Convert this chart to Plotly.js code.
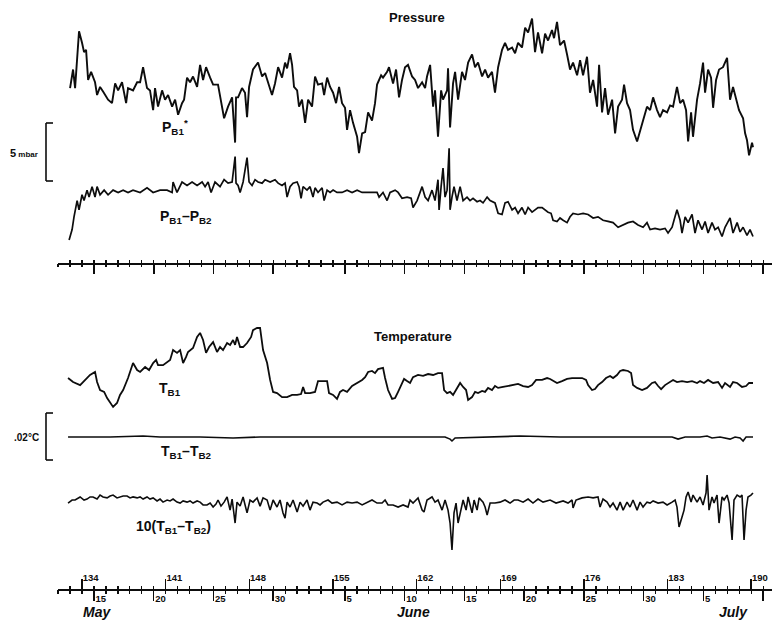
<!DOCTYPE html>
<html><head><meta charset="utf-8">
<script src="https://cdn.plot.ly/plotly-3.0.1.min.js"></script>
<style>html,body{margin:0;padding:0;background:#fff}#chart{width:772px;height:620px}</style>
</head><body><div id="chart"></div>
<script>
// ---------- DATA (day of year) ----------
// P_B1* (mbar, arbitrary zero)
const pb1Day = [133.00,133.25,133.42,133.75,134.00,134.17,134.34,134.51,134.76,135.09,135.26,135.51,135.76,136.18,136.51,136.77,137.02,137.35,137.69,137.85,138.27,138.61,138.86,139.11,139.44,139.69,139.95,140.11,140.36,140.70,140.95,141.20,141.54,141.79,142.04,142.37,142.54,142.79,143.04,143.29,143.63,143.88,144.13,144.38,144.72,144.97,145.38,145.72,145.89,146.22,146.56,146.81,146.89,147.06,147.39,147.64,147.81,147.98,148.31,148.73,149.07,149.32,149.57,149.90,150.15,150.41,150.74,150.99,151.16,151.41,151.58,151.74,152.00,152.16,152.41,152.67,152.92,153.25,153.50,153.75,154.09,154.26,154.51,154.76,155.01,155.26,155.51,155.76,156.01,156.18,156.43,156.68,157.02,157.18,157.44,157.69,157.94,158.27,158.52,158.69,159.03,159.19,159.53,159.69,160.03,160.28,160.53,160.78,161.03,161.28,161.62,161.87,162.12,162.46,162.71,162.87,163.13,163.38,163.54,163.79,164.05,164.21,164.55,164.63,164.80,165.05,165.22,165.47,165.80,166.05,166.31,166.64,166.89,167.14,167.48,167.73,167.98,168.31,168.56,168.82,169.15,169.40,169.65,169.99,170.24,170.49,170.82,171.08,171.33,171.66,171.91,172.16,172.50,172.75,173.00,173.33,173.50,173.75,174.00,174.34,174.59,174.84,175.09,175.43,175.68,175.93,176.26,176.51,176.77,177.10,177.27,177.52,177.77,178.02,178.36,178.61,178.86,179.19,179.36,179.61,179.86,180.11,180.45,180.70,180.95,181.28,181.54,181.79,182.12,182.37,182.62,182.96,183.21,183.46,183.79,184.05,184.30,184.55,184.72,184.97,185.13,185.47,185.72,185.97,186.14,186.39,186.64,186.81,187.06,187.31,187.64,187.98,188.23,188.48,188.73,188.98,189.32,189.49,189.65,189.82,190.07,190.15];
const pb1Val = [6.2,7.8,6.2,11.1,10.1,9.3,9.5,6.9,7.6,6.7,5.6,6.3,5.9,5.2,4.9,6.6,6.0,6.7,4.9,6.2,6.0,6.7,6.7,8.0,6.2,6.0,4.3,6.2,4.6,6.0,5.2,5.6,4.6,5.2,3.9,4.9,5.2,7.1,6.7,7.2,6.3,8.2,6.9,8.0,7.1,6.5,6.5,4.3,3.6,4.6,5.4,1.5,5.4,5.4,6.2,5.8,3.7,6.3,7.8,8.4,7.2,7.5,6.6,5.6,6.6,8.0,7.1,8.4,7.9,9.2,8.2,6.3,6.0,4.6,5.2,3.2,5.2,4.6,7.2,6.5,6.6,5.6,7.1,6.3,5.8,4.9,6.3,4.9,4.5,2.6,4.3,3.2,2.0,0.6,2.3,2.4,4.1,3.4,4.9,6.5,7.3,7.1,7.6,8.0,6.6,7.8,5.4,6.9,8.0,8.2,7.2,6.9,6.2,6.7,6.2,7.2,8.2,4.6,6.0,2.0,6.0,5.2,6.0,7.9,2.8,6.6,7.6,5.2,7.6,6.9,8.4,9.1,8.0,8.4,7.2,7.8,7.1,7.6,5.8,8.0,9.5,10.1,9.5,9.7,9.2,10.1,9.7,11.4,11.0,12.2,9.3,11.0,9.2,10.9,10.3,11.2,10.5,11.9,9.9,10.3,9.1,7.8,8.4,7.3,8.6,7.3,8.9,5.8,6.9,4.6,8.2,4.1,6.2,3.9,5.2,2.3,4.6,5.2,6.5,4.9,4.3,2.6,1.6,2.6,3.4,4.6,4.3,5.4,4.3,3.7,4.3,4.1,4.7,4.6,6.3,4.9,5.2,4.3,1.6,4.1,2.0,5.2,6.6,8.4,5.8,7.8,7.1,4.5,6.9,7.8,8.0,8.8,5.2,6.3,5.2,4.3,3.6,2.3,1.7,0.4,1.5,1.1];

// P_B1 - P_B2 (mbar, arbitrary zero)
const dpDay = [132.92,133.17,133.33,133.59,133.75,134.00,134.17,134.42,134.59,134.84,135.09,135.26,135.51,135.85,136.18,136.60,137.02,137.44,137.85,138.27,138.86,139.44,139.95,140.53,141.12,141.54,141.62,141.95,142.37,142.79,143.21,143.63,144.05,144.30,144.55,144.80,145.13,145.55,145.89,146.22,146.56,146.81,146.89,147.06,147.23,147.48,147.81,147.98,148.23,148.48,148.73,149.07,149.32,149.74,150.15,150.41,150.74,150.99,151.16,151.41,151.66,152.00,152.16,152.33,152.50,152.83,153.08,153.33,153.50,153.75,154.09,154.26,154.51,154.76,155.01,155.34,155.76,156.18,156.60,157.02,157.44,157.85,158.27,158.69,158.86,159.19,159.53,159.78,160.20,160.45,160.78,161.20,161.54,161.70,162.04,162.29,162.46,162.71,162.96,163.29,163.54,163.79,163.88,164.05,164.21,164.38,164.55,164.72,164.80,164.96,165.13,165.38,165.64,165.89,166.22,166.47,166.72,167.06,167.31,167.56,167.90,168.15,168.56,168.82,169.15,169.40,169.65,169.99,170.24,170.49,170.82,171.08,171.33,171.66,171.91,172.16,172.50,172.75,173.00,173.25,173.42,173.75,174.00,174.26,174.59,174.84,175.09,175.51,175.93,176.35,176.77,177.18,177.60,178.02,178.44,178.86,179.28,179.69,180.11,180.53,180.95,181.28,181.54,181.95,182.37,182.79,183.04,183.38,183.54,183.79,184.05,184.21,184.47,184.72,185.05,185.30,185.55,185.89,186.14,186.39,186.72,186.97,187.23,187.56,187.81,188.23,188.48,188.82,189.07,189.32,189.65,189.90,190.15];
const dpVal = [0.0,0.9,2.0,3.4,2.6,3.9,3.4,4.3,3.7,4.6,3.7,4.6,3.9,4.3,3.9,4.3,4.1,4.3,4.1,4.3,4.1,4.5,4.1,4.3,4.3,4.1,5.0,4.1,5.0,4.7,5.0,4.7,5.0,4.6,5.0,4.1,5.0,4.6,5.2,4.9,5.0,7.2,4.9,4.7,4.1,5.0,7.1,5.0,4.7,5.2,5.0,4.9,5.2,5.0,5.2,4.9,4.7,4.9,3.7,4.6,4.9,5.0,4.6,3.6,4.6,4.3,4.6,3.7,4.5,4.1,4.5,3.4,4.3,4.1,4.3,4.1,4.1,4.3,4.1,4.3,4.1,4.1,4.1,4.1,3.7,4.1,3.4,4.1,4.3,4.1,3.6,3.7,3.6,2.8,3.4,4.1,4.6,3.7,3.4,4.3,3.4,5.2,2.6,4.6,6.2,3.7,4.3,7.9,2.6,3.7,4.6,3.4,4.6,3.4,3.7,3.4,3.6,3.3,3.4,3.2,3.7,3.4,3.2,2.3,2.2,3.2,3.3,2.6,2.8,2.3,2.8,2.2,2.8,2.4,2.6,2.8,2.8,2.6,2.4,2.3,1.7,1.6,1.9,1.7,1.5,2.0,2.3,2.2,2.3,2.2,1.9,2.0,1.7,1.6,1.5,1.1,1.3,1.5,1.6,1.3,1.1,1.5,0.9,1.0,0.9,1.0,0.6,1.1,1.7,2.6,1.7,0.6,2.0,1.5,2.2,0.6,1.7,0.9,1.6,0.6,1.5,0.9,1.1,0.3,1.1,1.9,0.6,1.5,0.7,1.1,0.4,0.9,0.3];

// T_B1 (millidegrees C, arbitrary zero)
const tb1Day = [132.83,133.25,133.84,134.26,134.67,135.09,135.26,135.51,135.85,136.10,136.35,136.60,136.93,137.18,137.44,137.85,138.27,138.61,138.86,139.28,139.61,139.95,140.20,140.36,140.78,141.12,141.37,141.62,141.95,142.21,142.46,142.71,142.87,143.29,143.63,143.88,144.13,144.38,144.63,144.97,145.30,145.55,145.80,146.14,146.39,146.64,146.81,146.97,147.23,147.48,147.81,148.15,148.31,148.65,148.90,149.15,149.49,149.74,149.99,150.32,150.74,151.16,151.58,152.00,152.33,152.50,152.67,153.08,153.50,153.75,154.17,154.51,154.67,155.01,155.34,155.59,155.84,156.18,156.60,157.02,157.44,157.69,157.94,158.27,158.52,158.77,159.19,159.36,159.61,159.95,160.20,160.45,160.78,160.95,161.20,161.45,161.70,162.12,162.54,162.96,163.38,163.79,164.13,164.30,164.55,164.80,165.05,165.38,165.64,165.89,166.14,166.31,166.64,166.89,167.14,167.48,167.73,167.98,168.31,168.56,168.82,169.23,169.57,170.07,170.49,170.91,171.33,171.66,172.00,172.50,172.92,173.17,173.42,173.75,174.17,174.59,175.01,175.43,175.85,176.18,176.35,176.68,176.93,177.18,177.52,177.85,178.19,178.44,178.77,179.03,179.28,179.69,179.95,180.11,180.45,180.87,181.28,181.70,181.95,182.21,182.46,182.79,183.04,183.46,183.79,184.21,184.64,185.05,185.47,185.72,186.05,186.39,186.81,187.23,187.56,187.81,188.23,188.48,188.82,189.23,189.57,189.82,190.15];
const tb1Val = [13.6,11.9,10.6,12.8,14.9,16.2,11.9,8.5,7.7,5.1,3.0,1.3,3.0,6.4,8.5,13.6,20.0,17.0,16.2,18.3,17.0,20.0,21.3,19.1,19.1,20.4,21.3,25.5,24.3,25.5,20.0,22.6,24.7,26.4,31.1,32.8,29.8,24.3,26.8,28.9,24.7,26.8,25.5,28.5,27.7,29.8,27.7,31.1,26.8,26.8,28.5,31.1,34.0,34.9,34.9,25.5,20.0,12.8,7.7,7.2,5.5,5.5,6.4,6.4,6.8,9.8,7.2,7.2,7.7,12.3,12.3,12.3,7.2,6.4,4.7,7.7,8.5,7.7,10.2,11.5,12.8,14.0,16.2,16.6,15.7,17.4,17.9,13.6,8.5,4.7,5.1,7.7,11.5,13.2,12.3,11.5,14.0,14.9,14.5,15.3,14.9,15.7,15.7,8.5,7.2,7.7,6.4,9.4,11.5,9.8,8.5,4.3,5.5,7.7,7.2,8.1,7.7,9.4,8.5,10.2,9.4,9.8,10.2,10.6,11.1,10.2,9.8,10.6,12.8,12.8,13.6,13.2,12.3,11.5,12.3,13.2,13.6,13.6,13.6,12.8,10.6,8.5,8.9,10.6,11.9,13.6,14.5,13.6,14.9,16.6,17.0,16.6,15.7,10.6,9.4,8.5,9.4,11.5,11.9,10.2,8.9,10.6,11.5,12.8,11.9,12.3,11.9,12.3,11.5,12.3,11.5,12.8,11.5,11.9,9.4,11.5,9.8,11.9,11.5,9.8,10.2,11.5,11.5];

// T_B1 - T_B2 (millidegrees C)
const dtDay = [132.83,134.67,136.35,139.11,140.53,143.88,146.64,148.90,152.25,155.59,160.62,164.38,164.80,164.96,165.22,167.31,170.66,174.00,177.35,180.70,183.38,183.88,184.47,185.72,186.31,186.72,187.39,188.23,188.65,189.07,189.32,189.57,190.15];
const dtVal = [0,0,0,0.4,0,0,-0.4,0,0,0,0,0,-0.9,-1.7,-0.4,0,0.4,0,0,0,0,-0.9,0,0,0.4,-0.4,0,-0.9,0,-0.4,-1.7,0,0];

// 10 (T_B1 - T_B2) (millidegrees C)
const dt10Day = [132.83,133.17,133.42,133.67,133.84,134.17,134.42,134.67,134.92,135.26,135.51,135.76,136.10,136.35,136.60,136.93,137.18,137.44,137.77,138.02,138.27,138.61,138.86,139.11,139.44,139.69,139.95,140.28,140.53,140.78,141.12,141.37,141.62,141.95,142.21,142.46,142.79,143.04,143.29,143.63,143.88,144.13,144.46,144.72,144.97,145.21,145.38,145.63,145.89,146.14,146.39,146.56,146.81,146.97,147.23,147.48,147.81,148.06,148.31,148.65,148.90,149.15,149.49,149.74,149.99,150.32,150.57,150.82,150.99,151.16,151.41,151.66,152.00,152.25,152.50,152.83,153.08,153.33,153.67,153.92,154.17,154.59,154.92,155.34,155.76,156.18,156.60,157.02,157.44,157.85,158.27,158.69,159.11,159.36,159.61,160.03,160.45,160.87,161.28,161.45,161.70,162.12,162.46,162.62,162.87,163.29,163.54,163.79,164.13,164.38,164.63,164.80,164.96,165.13,165.30,165.47,165.72,165.89,166.14,166.31,166.64,166.81,167.06,167.23,167.56,167.73,167.90,168.15,168.56,168.98,169.40,169.82,170.16,170.49,170.91,171.33,171.74,172.16,172.58,173.17,173.67,174.26,174.67,175.01,175.09,175.34,175.85,176.35,176.77,177.18,177.35,177.60,177.94,178.19,178.44,178.77,179.03,179.28,179.61,179.86,180.11,180.45,180.70,180.95,181.28,181.54,181.79,182.21,182.62,182.96,183.38,183.63,183.79,183.96,184.21,184.38,184.55,184.72,184.97,185.13,185.47,185.72,185.97,186.22,186.31,186.47,186.72,186.89,187.14,187.31,187.56,187.73,187.98,188.15,188.40,188.56,188.82,189.07,189.23,189.40,189.57,189.73,189.98,190.15];
const dt10Val = [-1.3,0,0,0.9,1.3,0,0.4,1.3,1.3,0.4,2.1,1.3,0.9,1.7,2.1,0.9,1.3,1.7,1.7,0.9,1.3,0.9,1.3,0.4,1.3,0.4,0.9,-0.4,0.4,-0.9,0,-0.4,0.4,-0.9,-1.3,-0.4,-0.9,-0.4,-1.3,-0.4,-0.9,-2.1,-2.1,-1.3,-3.0,-1.7,0,-2.6,-0.9,1.3,-4.3,0.4,-9.8,-0.9,-2.6,1.3,-5.5,0,-0.9,0.9,-2.6,0.9,0,-4.3,0,-3.0,0,-5.5,-7.7,-0.9,-3.0,0,-5.1,-0.9,-2.6,0,-4.3,-0.9,-1.3,-2.1,-0.9,0,-1.3,-0.9,-2.1,-0.9,-1.3,-0.9,-2.1,-0.9,0,-1.3,-1.3,0,-2.1,-2.1,-3.0,-2.1,-3.0,0,-1.3,0.9,-4.3,-5.1,0,1.3,-0.9,0,-4.3,0,-4.3,-9.8,-21.3,-5.5,-1.3,-9.8,-3.0,0,-4.3,1.3,-5.5,0,-4.3,0.9,-0.9,-3.0,-6.4,-1.3,-1.3,-0.9,0,-1.3,0,0,-0.9,0.4,-1.3,0.4,-0.9,0,-1.3,-0.4,-1.3,0,-3.4,0,0.9,1.3,0.9,1.3,-3.0,0.4,-0.9,-3.0,-1.3,-4.3,-0.9,-4.3,-0.9,-3.0,0,-4.3,-0.9,-3.0,-0.9,-1.3,-0.4,-1.3,-0.9,-2.1,-0.9,0,-3.0,-11.5,-7.2,-4.3,1.3,3.4,-0.9,2.1,-0.9,1.3,-2.1,3.0,10.6,-4.3,1.3,-1.3,2.1,-9.8,1.3,0,2.1,-1.3,-17.0,0,2.1,1.3,2.1,-17.0,-4.3,1.3,2.1,3.0];

// Axis ticks
const dateTickDays   = [135,140,145,150,156,161,166,171,176,181,186,191];
const dateTickLabels = ['15','20','25','30','5','10','15','20','25','30','5','10'];
const dayTickDays    = [134,141,148,155,162,169,176,183,190];
const dayTickLabels  = ['134','141','148','155','162','169','176','183','190'];
const monthLabels    = ['May','June','July'];
const monthDays      = [135.26,161.70,188.48];

// ---------- LAYOUT / STYLE ----------
const W = 772, H = 620, ML = 58, MR = 0, MT = 0, MB = 31;
const PW = W - ML - MR, PH = H - MT - MB;
const INK = '#0d0d0d';
const FONT = 'Liberation Sans, Arial, Helvetica, sans-serif';
const XR = [131.99, 191.74];
// vertical offsets that stack the curves (positions only)
const DP_OFFSET = -6.897;     // mbar
const DT_OFFSET = -11.49;     // m°C
const DT10_OFFSET = -38.30;   // m°C
const P_RANGE = [-8.879, 13.793];
const T_RANGE = [-76.17, 46.81];

const shift = (arr, off) => arr.map(v => v + off);

const traces = [
  {x: pb1Day, y: pb1Val, xaxis: 'x', yaxis: 'y', mode: 'lines', line: {color: INK, width: 1.9}},
  {x: dpDay, y: shift(dpVal, DP_OFFSET), xaxis: 'x', yaxis: 'y', mode: 'lines', line: {color: INK, width: 1.7}},
  {x: tb1Day, y: tb1Val, xaxis: 'x4', yaxis: 'y2', mode: 'lines', line: {color: INK, width: 1.8}},
  {x: dtDay, y: shift(dtVal, DT_OFFSET), xaxis: 'x4', yaxis: 'y2', mode: 'lines', line: {color: INK, width: 1.6}},
  {x: dt10Day, y: shift(dt10Val, DT10_OFFSET), xaxis: 'x4', yaxis: 'y2', mode: 'lines', line: {color: INK, width: 1.6}}
];
// empty carrier traces so the overlay tick axes are drawn
[['x2','y'],['x3','y'],['x5','y2'],['x6','y2'],['x7','y2']].forEach(([xa, ya]) => {
  traces.push({x: [XR[0]], y: [null], xaxis: xa, yaxis: ya, mode: 'lines', hoverinfo: 'skip', showlegend: false});
});

const base = {range: XR, showgrid: false, zeroline: false, fixedrange: true, tickcolor: INK, autorange: false};
const tickFont = {family: FONT, size: 9.5, color: INK, weight: 700};

const layout = {
  width: W, height: H,
  margin: {l: ML, r: MR, t: MT, b: MB, pad: 0},
  paper_bgcolor: '#fff', plot_bgcolor: 'rgba(0,0,0,0)',
  showlegend: false,
  xaxis:  Object.assign({}, base, {anchor: 'y', showline: true, linecolor: INK, linewidth: 1.5,
            tickmode: 'array', tickvals: dateTickDays, ticks: 'outside', ticklen: 9, tickwidth: 1.6, showticklabels: false}),
  xaxis2: Object.assign({}, base, {anchor: 'y', overlaying: 'x', tickmode: 'linear', tick0: 132, dtick: 1,
            ticks: 'outside', ticklen: 3, tickwidth: 1.3, showticklabels: false, showline: false}),
  xaxis3: Object.assign({}, base, {anchor: 'y', overlaying: 'x', tickmode: 'linear', tick0: 132, dtick: 1,
            ticks: 'inside', ticklen: 3, tickwidth: 1.3, showticklabels: false, showline: false}),
  xaxis4: Object.assign({}, base, {anchor: 'y2', showline: true, linecolor: INK, linewidth: 1.6,
            tickmode: 'array', tickvals: dateTickDays, ticktext: dateTickLabels, ticks: 'outside', ticklen: 10, tickwidth: 1.5,
            ticklabelposition: 'outside right', tickfont: tickFont}),
  xaxis5: Object.assign({}, base, {anchor: 'y2', overlaying: 'x4', showline: false,
            tickmode: 'array', tickvals: dayTickDays, ticktext: dayTickLabels, ticks: 'inside', ticklen: 10, tickwidth: 1.5,
            ticklabelposition: 'inside right', tickfont: tickFont}),
  xaxis6: Object.assign({}, base, {anchor: 'y2', overlaying: 'x4', tickmode: 'linear', tick0: 132, dtick: 1,
            ticks: 'outside', ticklen: 3.5, tickwidth: 1.3, showticklabels: false, showline: false}),
  xaxis7: Object.assign({}, base, {anchor: 'y2', overlaying: 'x4', tickmode: 'linear', tick0: 132, dtick: 1,
            ticks: 'inside', ticklen: 3.5, tickwidth: 1.3, showticklabels: false, showline: false}),
  yaxis:  {domain: [(PH - 263) / PH, 1], range: P_RANGE, visible: false, fixedrange: true},
  yaxis2: {domain: [0, (PH - 300) / PH], range: T_RANGE, visible: false, fixedrange: true},
  annotations: [],
  shapes: []
};

// pixel -> paper helpers for text placement
const pxX = px => (px - ML) / PW;
const pxY = py => (MT + PH - py) / PH;
function label(text, px, py, size, extra) {
  return Object.assign({text, x: pxX(px), y: pxY(py), xref: 'paper', yref: 'paper', showarrow: false,
    xanchor: 'center', yanchor: 'middle', font: {family: FONT, size, color: INK}}, extra || {});
}
const A = layout.annotations;
A.push(label('<b>Pressure</b>', 417, 18, 13));
A.push(label('<b>Temperature</b>', 413, 336, 13));
A.push(label('<b>P<sub>B1</sub><sup>*</sup></b>', 175, 127, 14));
A.push(label('<b>P<sub>B1</sub>–P<sub>B2</sub></b>', 186, 217, 14));
A.push(label('<b>T<sub>B1</sub></b>', 170, 389, 14));
A.push(label('<b>T<sub>B1</sub>–T<sub>B2</sub></b>', 186, 452, 14));
A.push(label('<b>10(T<sub>B1</sub>–T<sub>B2</sub>)</b>', 173, 527, 14));
A.push(label('<b><span style="font-size:11px">5</span> mbar</b>', 24, 153, 8));
A.push(label('<b>.02°C</b>', 26, 437, 10));
monthLabels.forEach((m, i) => {
  A.push({text: '<b><i>' + m + '</i></b>', x: monthDays[i], xref: 'x4', y: pxY(612), yref: 'paper',
    showarrow: false, xanchor: 'center', yanchor: 'middle', font: {family: FONT, size: 14, color: INK}});
});

// scale brackets (5 mbar and 0.02 °C = 20 m°C)
const P_SCALE = 5, P_SCALE_BOTTOM = -1.81;
const T_SCALE = 20, T_SCALE_BOTTOM = -21.28;
function bracket(yref, y0, y1) {
  const xa = pxX(46), xb = pxX(53);
  const ln = {color: INK, width: 1.6};
  return [
    {type: 'line', xref: 'paper', yref, x0: xa, x1: xa, y0, y1, line: ln},
    {type: 'line', xref: 'paper', yref, x0: xa, x1: xb, y0: y0, y1: y0, line: ln},
    {type: 'line', xref: 'paper', yref, x0: xa, x1: xb, y0: y1, y1: y1, line: ln}
  ];
}
layout.shapes.push(...bracket('y', P_SCALE_BOTTOM, P_SCALE_BOTTOM + P_SCALE));
layout.shapes.push(...bracket('y2', T_SCALE_BOTTOM, T_SCALE_BOTTOM + T_SCALE));

Plotly.newPlot('chart', traces, layout, {displayModeBar: false, staticPlot: true});
</script>
</body></html>
